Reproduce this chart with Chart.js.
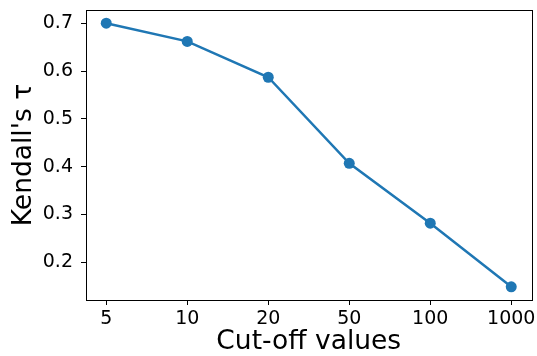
<!DOCTYPE html>
<html>
<head>
<meta charset="utf-8">
<script src="https://cdn.jsdelivr.net/npm/chart.js@4/dist/chart.umd.min.js"></script>
<style>
html,body{margin:0;padding:0;background:#fff;}
#wrap{width:537px;height:356px;position:relative;}
</style>
</head>
<body>
<div id="wrap"><canvas id="c" width="537" height="356"></canvas></div>
<script>
const categories = ["5", "10", "20", "50", "100", "1000"];
const tauValues = [0.700, 0.662, 0.587, 0.407, 0.282, 0.149];
const yTicks = [0.2, 0.3, 0.4, 0.5, 0.6, 0.7];

const points = tauValues.map((v, i) => ({x: i, y: v}));
const FONT = "'DejaVu Sans', sans-serif";

const frame = {
  id: 'frame',
  afterDatasetsDraw(chart) {
    const a = chart.chartArea, ctx = chart.ctx;
    ctx.save();
    ctx.strokeStyle = '#000';
    ctx.lineWidth = 1;
    ctx.strokeRect(Math.round(a.left) + 0.5, Math.round(a.top) + 0.5,
                   Math.round(a.right - a.left), Math.round(a.bottom - a.top));
    ctx.restore();
  }
};
function zeroPad(scale) {
  scale.paddingLeft = 0; scale.paddingRight = 0;
  scale.paddingTop = 0; scale.paddingBottom = 0;
}

new Chart(document.getElementById('c'), {
  type: 'line',
  data: {
    datasets: [{
      data: points,
      borderColor: '#1f77b4',
      backgroundColor: '#1f77b4',
      borderWidth: 2.5,
      pointRadius: 5.5,
      pointBorderWidth: 0,
      pointHoverRadius: 5.5,
      fill: false,
      tension: 0
    }]
  },
  options: {
    responsive: false,
    animation: false,
    events: [],
    layout: {padding: {top: 10, right: 4, left: 0, bottom: 0}},
    plugins: {legend: {display: false}, tooltip: {enabled: false}},
    scales: {
      x: {
        type: 'linear',
        min: -0.25,
        max: 5.25,
        afterBuildTicks(scale) {
          scale.ticks = categories.map((c, i) => ({value: i}));
        },
        afterFit(scale) { scale.height = 56; zeroPad(scale); },
        ticks: {
          autoSkip: false,
          maxRotation: 0,
          color: '#000',
          padding: 3,
          font: {family: FONT, size: 19},
          callback: (v) => categories[v]
        },
        grid: {drawOnChartArea: false, tickLength: 5, tickColor: '#000', color: '#000'},
        border: {display: false},
        title: {display: true, text: 'Cut-off values', color: '#000',
                font: {family: FONT, size: 26.5}, padding: {top: 0, bottom: -2}}
      },
      y: {
        min: 0.1214,
        max: 0.7276,
        afterBuildTicks(scale) {
          scale.ticks = yTicks.map(v => ({value: v}));
        },
        afterFit(scale) { scale.width = 86; zeroPad(scale); },
        ticks: {
          color: '#000',
          padding: 8,
          font: {family: FONT, size: 19},
          callback: (v) => v.toFixed(1)
        },
        grid: {drawOnChartArea: false, tickLength: 5, tickColor: '#000', color: '#000'},
        border: {display: false},
        title: {display: true, text: "Kendall's τ", color: '#000',
                font: {family: FONT, size: 26.5}, padding: {top: 8, bottom: 0}}
      }
    }
  },
  plugins: [frame]
});
</script>
</body>
</html>
